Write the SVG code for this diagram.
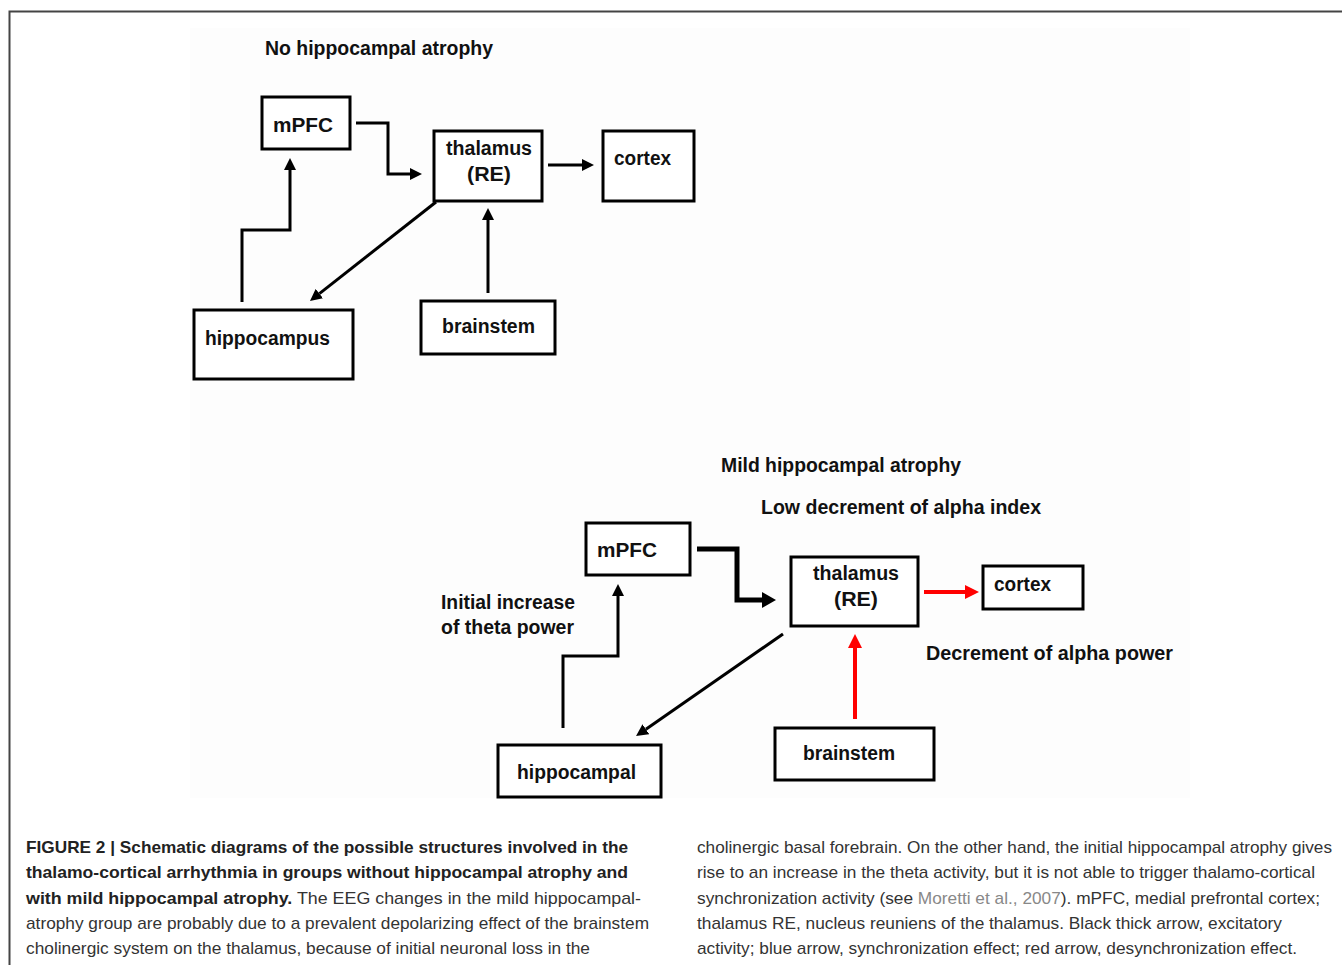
<svg xmlns="http://www.w3.org/2000/svg" width="1342" height="965" viewBox="0 0 1342 965">
<style>
.box{fill:#fff;stroke:#000;stroke-width:3}
.lbl{font-family:"Liberation Sans",Arial,sans-serif;font-weight:bold;font-size:20px;fill:#111}
.ttl{font-family:"Liberation Sans",Arial,sans-serif;font-weight:bold;font-size:20px;fill:#111}
.con{fill:none;stroke:#000;stroke-width:3}
.thick{fill:none;stroke:#000;stroke-width:5}
.red{fill:none;stroke:#ff0000;stroke-width:4}
.cap{font-family:"Liberation Sans",Arial,sans-serif;font-size:17px;fill:#333}
.capb{font-weight:bold;fill:#222}
</style>
<defs>
<marker id="ah" markerUnits="userSpaceOnUse" viewBox="0 0 12 12" markerWidth="12" markerHeight="12" refX="0" refY="6" orient="auto"><path d="M0,0 L12,6 L0,12 z" fill="#000"/></marker>
<marker id="ahb" markerUnits="userSpaceOnUse" viewBox="0 0 14 16" markerWidth="14" markerHeight="16" refX="0" refY="8" orient="auto"><path d="M0,0 L14,8 L0,16 z" fill="#000"/></marker>
<marker id="ahr" markerUnits="userSpaceOnUse" viewBox="0 0 14 14" markerWidth="14" markerHeight="14" refX="0" refY="7" orient="auto"><path d="M0,0 L14,7 L0,14 z" fill="#ff0000"/></marker>
</defs>
<rect width="1342" height="965" fill="#fff"/>
<path d="M9.5,965 V11.5 H1342" fill="none" stroke="#444" stroke-width="2"/>
<rect x="190" y="28" width="1000" height="770" fill="#fdfdfd"/>

<text class="ttl" x="265" y="55" textLength="228" lengthAdjust="spacingAndGlyphs">No hippocampal atrophy</text>

<g id="connectors">
<path class="con" d="M356,123 H388 V174 H410" marker-end="url(#ah)"/>
<path class="con" d="M548,165 H582" marker-end="url(#ah)"/>
<path class="con" d="M436,202 L319.4,293.6" marker-end="url(#ah)"/>
<path class="con" d="M488,293 V220" marker-end="url(#ah)"/>
<path class="con" d="M242,302 V230 H290 V170" marker-end="url(#ah)"/>
<path class="thick" d="M697,549 H737 V600 H762" marker-end="url(#ahb)"/>
<path class="red" d="M924,592 H965" marker-end="url(#ahr)"/>
<path class="con" d="M783,634 L645.9,729.2" marker-end="url(#ah)"/>
<path class="red" d="M855,719 V648" marker-end="url(#ahr)"/>
<path class="con" d="M563,728 V656 H618 V596" marker-end="url(#ah)"/>
</g>

<g id="top-mpfc"><rect class="box" x="262" y="97" width="88" height="52"/><text class="lbl" x="273" y="132" textLength="60" lengthAdjust="spacingAndGlyphs">mPFC</text></g>
<g id="top-thalamus"><rect class="box" x="434" y="131" width="108" height="70"/><text class="lbl" x="446" y="155" textLength="86" lengthAdjust="spacingAndGlyphs">thalamus</text><text class="lbl" x="467" y="181" textLength="44" lengthAdjust="spacingAndGlyphs">(RE)</text></g>
<g id="top-cortex"><rect class="box" x="603" y="131" width="91" height="70"/><text class="lbl" x="614" y="165" textLength="57" lengthAdjust="spacingAndGlyphs">cortex</text></g>
<g id="top-hippocampus"><rect class="box" x="194" y="310" width="159" height="69"/><text class="lbl" x="205" y="345" textLength="125" lengthAdjust="spacingAndGlyphs">hippocampus</text></g>
<g id="top-brainstem"><rect class="box" x="421" y="301" width="134" height="53"/><text class="lbl" x="442" y="333" textLength="93" lengthAdjust="spacingAndGlyphs">brainstem</text></g>

<text class="ttl" x="721" y="472" textLength="240" lengthAdjust="spacingAndGlyphs">Mild hippocampal atrophy</text>
<text class="ttl" x="761" y="514" textLength="280" lengthAdjust="spacingAndGlyphs">Low decrement of alpha index</text>
<text class="ttl" x="441" y="609" textLength="134" lengthAdjust="spacingAndGlyphs">Initial increase</text>
<text class="ttl" x="441" y="634" textLength="133" lengthAdjust="spacingAndGlyphs">of theta power</text>
<text class="ttl" x="926" y="660" textLength="247" lengthAdjust="spacingAndGlyphs">Decrement of alpha power</text>

<g id="bot-mpfc"><rect class="box" x="586" y="523" width="104" height="52"/><text class="lbl" x="597" y="557" textLength="60" lengthAdjust="spacingAndGlyphs">mPFC</text></g>
<g id="bot-thalamus"><rect class="box" x="791" y="557" width="127" height="69"/><text class="lbl" x="813" y="580" textLength="86" lengthAdjust="spacingAndGlyphs">thalamus</text><text class="lbl" x="834" y="606" textLength="44" lengthAdjust="spacingAndGlyphs">(RE)</text></g>
<g id="bot-cortex"><rect class="box" x="983" y="566" width="100" height="43"/><text class="lbl" x="994" y="591" textLength="57" lengthAdjust="spacingAndGlyphs">cortex</text></g>
<g id="bot-hippocampal"><rect class="box" x="498" y="745" width="163" height="52"/><text class="lbl" x="517" y="779" textLength="119" lengthAdjust="spacingAndGlyphs">hippocampal</text></g>
<g id="bot-brainstem"><rect class="box" x="775" y="728" width="159" height="52"/><text class="lbl" x="803" y="760" textLength="92" lengthAdjust="spacingAndGlyphs">brainstem</text></g>

<g id="caption">
<text class="cap capb" x="26" y="853" textLength="602" lengthAdjust="spacingAndGlyphs">FIGURE 2 | Schematic diagrams of the possible structures involved in the</text>
<text class="cap capb" x="26" y="878" textLength="602" lengthAdjust="spacingAndGlyphs">thalamo-cortical arrhythmia in groups without hippocampal atrophy and</text>
<text class="cap" x="26" y="904" textLength="615" lengthAdjust="spacingAndGlyphs"><tspan class="capb">with mild hippocampal atrophy.</tspan> The EEG changes in the mild hippocampal-</text>
<text class="cap" x="26" y="929" textLength="623" lengthAdjust="spacingAndGlyphs">atrophy group are probably due to a prevalent depolarizing effect of the brainstem</text>
<text class="cap" x="26" y="954" textLength="564" lengthAdjust="spacingAndGlyphs">cholinergic system on the thalamus, because of initial neuronal loss in the</text>
<text class="cap" x="697" y="853" textLength="635" lengthAdjust="spacingAndGlyphs">cholinergic basal forebrain. On the other hand, the initial hippocampal atrophy gives</text>
<text class="cap" x="697" y="878" textLength="618" lengthAdjust="spacingAndGlyphs">rise to an increase in the theta activity, but it is not able to trigger thalamo-cortical</text>
<text class="cap" x="697" y="904" textLength="623" lengthAdjust="spacingAndGlyphs">synchronization activity (see <tspan fill="#888">Moretti et al., 2007</tspan>). mPFC, medial prefrontal cortex;</text>
<text class="cap" x="697" y="929" textLength="585" lengthAdjust="spacingAndGlyphs">thalamus RE, nucleus reuniens of the thalamus. Black thick arrow, excitatory</text>
<text class="cap" x="697" y="954" textLength="600" lengthAdjust="spacingAndGlyphs">activity; blue arrow, synchronization effect; red arrow, desynchronization effect.</text>
</g>
</svg>
